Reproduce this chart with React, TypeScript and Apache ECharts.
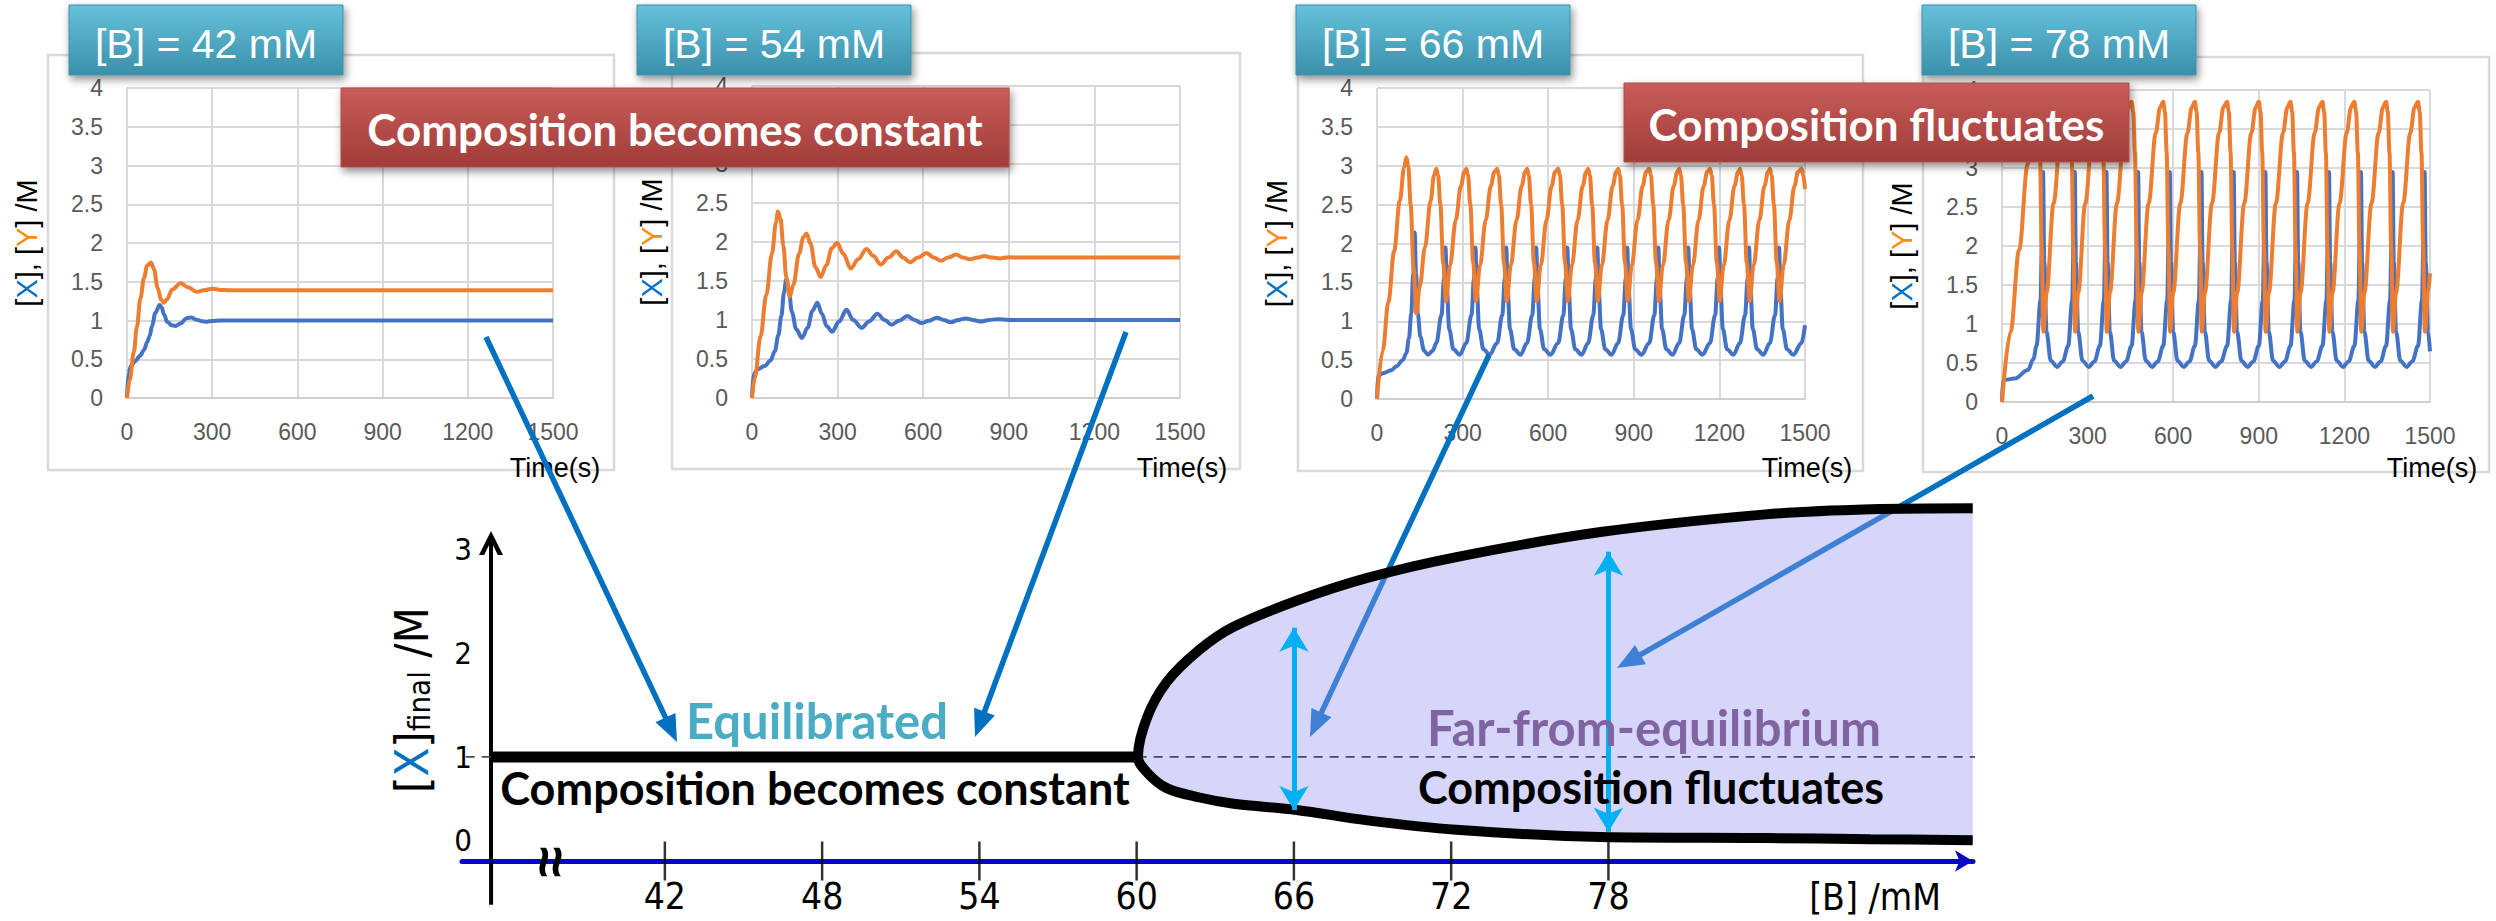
import React, { useEffect, useRef } from "react";
import * as echarts from "echarts";

const W = 2496;
const H = 921;

// ---------- small time-course charts ----------
const conditions = ["42", "54", "66", "78"];
const timeMax = 1500;
const timeStep = 300;
const concMax = 4;
const concStep = 0.5;

// [B] = 42 mM
const t42Y = [0, 10, 24, 35, 47, 60, 71, 85, 95, 108, 120, 129, 140, 160, 188, 215, 245, 270, 300, 330, 360, 400, 600, 900, 1200, 1500];
const y42 = [0, 0.24, 0.59, 0.92, 1.28, 1.55, 1.71, 1.75, 1.66, 1.42, 1.27, 1.23, 1.27, 1.4, 1.48, 1.43, 1.37, 1.39, 1.41, 1.395, 1.39, 1.39, 1.39, 1.39, 1.39, 1.39];
const t42X = [0, 5, 15, 30, 47, 60, 71, 80, 88, 100, 115, 122, 130, 142, 158, 171, 188, 210, 226, 245, 265, 282, 300, 330, 400, 600, 900, 1200, 1500];
const x42 = [0, 0.32, 0.42, 0.48, 0.55, 0.62, 0.72, 0.8, 0.93, 1.1, 1.2, 1.17, 1.08, 0.98, 0.94, 0.93, 0.96, 1.03, 1.04, 1.01, 0.99, 0.985, 0.995, 1.0, 1.0, 1.0, 1.0, 1.0, 1.0];

// [B] = 54 mM
const t54Y = [0, 10, 30, 50, 70, 84, 91, 100, 110, 120, 132, 145, 165, 180, 191, 205, 222, 241, 260, 280, 298, 320, 346, 372, 401, 426, 451, 478, 506, 530, 553, 582, 612, 637, 662, 688, 715, 740, 764, 790, 814, 842, 869, 900, 940, 1000, 1100, 1200, 1300, 1400, 1500];
const y54 = [0, 0.26, 0.79, 1.32, 1.85, 2.25, 2.39, 2.3, 1.95, 1.55, 1.3, 1.45, 1.85, 2.06, 2.11, 1.98, 1.68, 1.55, 1.7, 1.92, 1.99, 1.85, 1.66, 1.78, 1.91, 1.82, 1.71, 1.8, 1.88, 1.8, 1.74, 1.8, 1.86, 1.8, 1.76, 1.8, 1.84, 1.8, 1.78, 1.8, 1.82, 1.8, 1.79, 1.805, 1.8, 1.8, 1.8, 1.8, 1.8, 1.8, 1.8];
const t54X = [0, 5, 20, 44, 65, 80, 92, 103, 112, 120, 128, 140, 155, 175, 195, 212, 229, 245, 262, 281, 305, 331, 355, 384, 410, 439, 465, 489, 515, 544, 570, 594, 620, 647, 672, 697, 723, 749, 775, 802, 830, 860, 900, 1000, 1100, 1200, 1300, 1400, 1500];
const x54 = [0, 0.3, 0.37, 0.41, 0.48, 0.6, 0.8, 1.05, 1.35, 1.52, 1.42, 1.1, 0.88, 0.77, 0.9, 1.12, 1.22, 1.08, 0.92, 0.85, 0.98, 1.13, 1.0, 0.9, 0.98, 1.08, 1.0, 0.94, 0.99, 1.05, 1.0, 0.96, 0.99, 1.03, 1.0, 0.97, 1.0, 1.02, 1.0, 0.98, 1.0, 1.01, 1.0, 1.0, 1.0, 1.0, 1.0, 1.0, 1.0];

// [B] = 66 mM
const t66Y = [
  0, 20, 40, 60, 80, 95, 103, 110, 118, 128, 138, 150, 168, 188, 200, 208,
  214, 222, 232, 242, 256, 276, 294, 306, 313,
  319, 327, 337, 347, 361, 381, 399, 411, 421,
  427, 435, 445, 455, 469, 489, 507, 519, 526,
  532, 540, 550, 560, 574, 594, 612, 624, 635,
  641, 649, 659, 669, 683, 703, 721, 733, 740,
  746, 754, 764, 774, 788, 808, 826, 838, 845,
  851, 859, 869, 879, 893, 913, 931, 943, 954,
  960, 968, 978, 988, 1002, 1022, 1040, 1052, 1059,
  1065, 1073, 1083, 1093, 1107, 1127, 1145, 1157, 1167,
  1173, 1181, 1191, 1201, 1215, 1235, 1253, 1265, 1272,
  1278, 1286, 1296, 1306, 1320, 1340, 1358, 1370, 1377,
  1383, 1391, 1401, 1411, 1425, 1445, 1463, 1475, 1488,
  1494, 1500,
];
const y66 = [
  0, 0.62, 1.25, 1.9, 2.55, 2.98, 3.11, 2.98, 2.5, 1.7, 1.1, 1.45, 1.95, 2.55, 2.88, 2.96,
  2.88, 2.5, 1.75, 1.26, 1.72, 2.3, 2.74, 2.92, 2.96,
  2.88, 2.5, 1.75, 1.26, 1.72, 2.3, 2.74, 2.92, 2.96,
  2.88, 2.5, 1.75, 1.26, 1.72, 2.3, 2.74, 2.92, 2.96,
  2.88, 2.5, 1.75, 1.26, 1.72, 2.3, 2.74, 2.92, 2.96,
  2.88, 2.5, 1.75, 1.26, 1.72, 2.3, 2.74, 2.92, 2.96,
  2.88, 2.5, 1.75, 1.26, 1.72, 2.3, 2.74, 2.92, 2.96,
  2.88, 2.5, 1.75, 1.26, 1.72, 2.3, 2.74, 2.92, 2.96,
  2.88, 2.5, 1.75, 1.26, 1.72, 2.3, 2.74, 2.92, 2.96,
  2.88, 2.5, 1.75, 1.26, 1.72, 2.3, 2.74, 2.92, 2.96,
  2.88, 2.5, 1.75, 1.26, 1.72, 2.3, 2.74, 2.92, 2.96,
  2.88, 2.5, 1.75, 1.26, 1.72, 2.3, 2.74, 2.92, 2.96,
  2.88, 2.5, 1.75, 1.26, 1.72, 2.3, 2.74, 2.92, 2.96,
  2.88, 2.7,
];
const t66X = [
  0, 3, 21, 50, 68, 90, 103, 112, 120, 127, 132, 137, 143, 152, 165, 179, 195, 208,
  226, 235, 240, 245, 253, 268, 290, 313,
  331, 340, 345, 350, 358, 373, 395, 421,
  439, 448, 453, 458, 466, 481, 503, 526,
  544, 553, 558, 563, 571, 586, 608, 635,
  653, 662, 667, 672, 680, 695, 717, 740,
  758, 767, 772, 777, 785, 800, 822, 845,
  863, 872, 877, 882, 890, 905, 927, 954,
  972, 981, 986, 991, 999, 1014, 1036, 1059,
  1077, 1086, 1091, 1096, 1104, 1119, 1141, 1167,
  1185, 1194, 1199, 1204, 1212, 1227, 1249, 1272,
  1290, 1299, 1304, 1309, 1317, 1332, 1354, 1377,
  1395, 1404, 1409, 1414, 1422, 1437, 1459, 1488,
  1500,
];
const x66 = [
  0, 0.3, 0.33, 0.37, 0.42, 0.5, 0.59, 0.78, 1.1, 1.6, 2.14, 1.6, 1.1, 0.8, 0.62, 0.57, 0.62, 0.72,
  1.08, 1.55, 1.95, 1.4, 0.9, 0.64, 0.57, 0.72,
  1.08, 1.55, 1.95, 1.4, 0.9, 0.64, 0.57, 0.72,
  1.08, 1.55, 1.95, 1.4, 0.9, 0.64, 0.57, 0.72,
  1.08, 1.55, 1.95, 1.4, 0.9, 0.64, 0.57, 0.72,
  1.08, 1.55, 1.95, 1.4, 0.9, 0.64, 0.57, 0.72,
  1.08, 1.55, 1.95, 1.4, 0.9, 0.64, 0.57, 0.72,
  1.08, 1.55, 1.95, 1.4, 0.9, 0.64, 0.57, 0.72,
  1.08, 1.55, 1.95, 1.4, 0.9, 0.64, 0.57, 0.72,
  1.08, 1.55, 1.95, 1.4, 0.9, 0.64, 0.57, 0.72,
  1.08, 1.55, 1.95, 1.4, 0.9, 0.64, 0.57, 0.72,
  1.08, 1.55, 1.95, 1.4, 0.9, 0.64, 0.57, 0.72,
  1.08, 1.55, 1.95, 1.4, 0.9, 0.64, 0.57, 0.72,
  0.95,
];

// [B] = 78 mM
const t78Y = [
  0, 30, 60, 90, 108, 121,
  127, 133, 139, 145, 156, 181, 206, 221, 232,
  238, 244, 250, 256, 267, 292, 317, 332, 343,
  349, 355, 361, 367, 378, 403, 428, 443, 454,
  460, 466, 472, 478, 489, 514, 539, 554, 565,
  571, 577, 583, 589, 600, 625, 650, 665, 676,
  682, 688, 694, 700, 711, 736, 761, 776, 789,
  795, 801, 807, 813, 824, 849, 874, 889, 900,
  906, 912, 918, 924, 935, 960, 985, 1000, 1011,
  1017, 1023, 1029, 1035, 1046, 1071, 1096, 1111, 1123,
  1129, 1135, 1141, 1147, 1158, 1183, 1208, 1223, 1235,
  1241, 1247, 1253, 1259, 1270, 1295, 1320, 1335, 1346,
  1352, 1358, 1364, 1370, 1381, 1406, 1431, 1446, 1458,
  1464, 1470, 1476, 1482, 1493, 1500,
];
const y78 = [
  0, 0.9, 1.95, 3.05, 3.7, 3.98,
  3.72, 3.2, 2.0, 0.9, 1.4, 2.55, 3.45, 3.78, 3.85,
  3.72, 3.2, 2.0, 0.9, 1.4, 2.55, 3.45, 3.78, 3.85,
  3.72, 3.2, 2.0, 0.9, 1.4, 2.55, 3.45, 3.78, 3.85,
  3.72, 3.2, 2.0, 0.9, 1.4, 2.55, 3.45, 3.78, 3.85,
  3.72, 3.2, 2.0, 0.9, 1.4, 2.55, 3.45, 3.78, 3.85,
  3.72, 3.2, 2.0, 0.9, 1.4, 2.55, 3.45, 3.78, 3.85,
  3.72, 3.2, 2.0, 0.9, 1.4, 2.55, 3.45, 3.78, 3.85,
  3.72, 3.2, 2.0, 0.9, 1.4, 2.55, 3.45, 3.78, 3.85,
  3.72, 3.2, 2.0, 0.9, 1.4, 2.55, 3.45, 3.78, 3.85,
  3.72, 3.2, 2.0, 0.9, 1.4, 2.55, 3.45, 3.78, 3.85,
  3.72, 3.2, 2.0, 0.9, 1.4, 2.55, 3.45, 3.78, 3.85,
  3.72, 3.2, 2.0, 0.9, 1.4, 2.55, 3.45, 3.78, 3.85,
  3.72, 3.2, 2.0, 0.9, 1.4, 1.65,
];
const t78X = [
  0, 3, 44, 91, 110, 121,
  135, 141, 144, 148, 156, 171, 193, 213, 232,
  246, 252, 255, 259, 267, 282, 304, 324, 343,
  357, 363, 366, 370, 378, 393, 415, 435, 454,
  468, 474, 477, 481, 489, 504, 526, 546, 565,
  579, 585, 588, 592, 600, 615, 637, 657, 676,
  690, 696, 699, 703, 711, 726, 748, 768, 789,
  803, 809, 812, 816, 824, 839, 861, 881, 900,
  914, 920, 923, 927, 935, 950, 972, 992, 1011,
  1025, 1031, 1034, 1038, 1046, 1061, 1083, 1103, 1123,
  1137, 1143, 1146, 1150, 1158, 1173, 1195, 1215, 1235,
  1249, 1255, 1258, 1262, 1270, 1285, 1307, 1327, 1346,
  1360, 1366, 1369, 1373, 1381, 1396, 1418, 1438, 1458,
  1472, 1478, 1481, 1485, 1493, 1500,
];
const x78 = [
  0, 0.28, 0.3, 0.41, 0.55, 0.72,
  1.3, 2.3, 2.95, 1.8, 0.9, 0.53, 0.45, 0.52, 0.72,
  1.3, 2.3, 2.95, 1.8, 0.9, 0.53, 0.45, 0.52, 0.72,
  1.3, 2.3, 2.95, 1.8, 0.9, 0.53, 0.45, 0.52, 0.72,
  1.3, 2.3, 2.95, 1.8, 0.9, 0.53, 0.45, 0.52, 0.72,
  1.3, 2.3, 2.95, 1.8, 0.9, 0.53, 0.45, 0.52, 0.72,
  1.3, 2.3, 2.95, 1.8, 0.9, 0.53, 0.45, 0.52, 0.72,
  1.3, 2.3, 2.95, 1.8, 0.9, 0.53, 0.45, 0.52, 0.72,
  1.3, 2.3, 2.95, 1.8, 0.9, 0.53, 0.45, 0.52, 0.72,
  1.3, 2.3, 2.95, 1.8, 0.9, 0.53, 0.45, 0.52, 0.72,
  1.3, 2.3, 2.95, 1.8, 0.9, 0.53, 0.45, 0.52, 0.72,
  1.3, 2.3, 2.95, 1.8, 0.9, 0.53, 0.45, 0.52, 0.72,
  1.3, 2.3, 2.95, 1.8, 0.9, 0.53, 0.45, 0.52, 0.72,
  1.3, 2.3, 2.95, 1.8, 0.9, 0.65,
];

const seriesX = [[t42X, x42], [t54X, x54], [t66X, x66], [t78X, x78]];
const seriesY = [[t42Y, y42], [t54Y, y54], [t66Y, y66], [t78Y, y78]];

// ---------- bifurcation diagram ----------
const bTicks = [42, 48, 54, 60, 66, 72, 78];
const xFinalTicks = [0, 1, 2, 3];
const branchB = [60.05, 60.4, 61.15, 62.4, 63.7, 66.1, 68.8, 72.2, 77.7, 84, 88, 91.9];
const upperX = [1.0, 1.38, 1.72, 2.03, 2.25, 2.5, 2.72, 2.92, 3.16, 3.33, 3.38, 3.39];
const lowerX = [1.0, 0.85, 0.7, 0.61, 0.55, 0.49, 0.39, 0.3, 0.23, 0.22, 0.21, 0.2];
const steadyB = [35.37, 60.05];
const steadyX = [1, 1];
const refB = [34.4, 92.4];
const refX = [1, 1];
const axisTailB = [35.37, 35.37];
const axisTailX = [0, -0.42];
const oscB = [66, 78];
const oscTop = [2.24, 2.97];
const oscBottom = [0.49, 0.28];

// ---------- layout ----------
const smallGrids = [
  { left: 127, top: 88, width: 426, height: 310 },
  { left: 752, top: 86, width: 428, height: 312 },
  { left: 1377, top: 88, width: 428, height: 311 },
  { left: 2002, top: 90, width: 428, height: 312 },
];
const outerBoxes = [
  [48, 55, 566, 415],
  [672, 53, 568, 416],
  [1298, 55, 565, 416],
  [1923, 57, 566, 415],
];
const labelBoxX = [69, 637, 1296, 1922];
const redBoxes = [
  { x: 341, y: 88, w: 668, h: 79, text: "Composition becomes constant" },
  { x: 1624, y: 83, w: 505, h: 79, text: "Composition fluctuates" },
];
const pointerArrows = [
  [486, 337, 677, 742],
  [1126, 332, 975, 737],
  [1489, 355, 1310, 737],
  [2093, 396, 1617, 668],
];

const SANS = "'Liberation Sans', Arial, sans-serif";
const BOLD = "Lato, 'Noto Sans', sans-serif";
const NARROW = "'Liberation Sans Narrow', 'DejaVu Sans Condensed', Roboto, sans-serif";

const zip = (a: number[], b: number[]) => a.map((v, i) => [v, b[i]]);

function arrow(x1: number, y1: number, x2: number, y2: number, color: string, width: number, z: number) {
  const dx = x2 - x1;
  const dy = y2 - y1;
  const len = Math.hypot(dx, dy);
  const ux = dx / len;
  const uy = dy / len;
  const hl = 27;
  const hw = 11;
  const bx = x2 - ux * hl;
  const by = y2 - uy * hl;
  const nx = -uy;
  const ny = ux;
  return [
    {
      type: "line",
      silent: true,
      z,
      shape: { x1, y1, x2: bx + ux * 4, y2: by + uy * 4 },
      style: { stroke: color, lineWidth: width },
    },
    {
      type: "polygon",
      silent: true,
      z,
      shape: {
        points: [
          [x2, y2],
          [bx + nx * hw, by + ny * hw],
          [bx - nx * hw, by - ny * hw],
        ],
      },
      style: { fill: color },
    },
  ];
}

function buildOption() {
  const outline = [
    ...zip(branchB, upperX).reverse(),
    ...zip(branchB, lowerX).slice(1),
  ];

  const grid: any[] = smallGrids.map((g) => ({ ...g, outerBoundsMode: "none", containLabel: false }));
  grid.push({ left: 462, top: 543, width: 1511, height: 318, outerBoundsMode: "none", containLabel: false });

  const xAxis: any[] = smallGrids.map((_, i) => ({
    gridIndex: i,
    type: "value",
    min: 0,
    max: timeMax,
    interval: timeStep,
    axisLine: { lineStyle: { color: "#CFCFCF", width: 2 } },
    axisTick: { show: false },
    axisLabel: { color: "#595959", fontSize: 23, margin: 22, fontFamily: SANS, formatter: (v: number) => String(v) },
    splitLine: { show: true, lineStyle: { color: "#D9D9D9", width: 2 } },
  }));
  xAxis.push({
    gridIndex: 4,
    type: "value",
    min: 34.26,
    max: 91.91,
    axisLine: {
      onZero: false,
      lineStyle: { color: "#0606C8", width: 5 },
      symbol: ["none", "arrow"],
      symbolSize: [16, 18],
    },
    axisTick: { show: false },
    splitLine: { show: false },
    axisLabel: {
      customValues: bTicks,
      fontSize: 37,
      color: "#000",
      margin: 17,
      fontFamily: NARROW,
      formatter: (v: number) => String(v),
    },
  });

  const richName = {
    b: { fontSize: 29, color: "#000", fontFamily: SANS },
    x: { fontSize: 29, color: "#0070C0", fontFamily: SANS },
    y: { fontSize: 29, color: "#FF8A10", fontFamily: SANS },
  };
  const yAxis: any[] = smallGrids.map((_, i) => ({
    gridIndex: i,
    type: "value",
    min: 0,
    max: concMax,
    interval: concStep,
    axisLine: { show: false },
    axisTick: { show: false },
    axisLabel: { color: "#595959", fontSize: 23, margin: 24, fontFamily: SANS },
    splitLine: { show: true, lineStyle: { color: "#D9D9D9", width: 2 } },
    name: "{b|[}{x|X}{b|], [}{y|Y}{b|] /M}",
    nameLocation: "middle",
    nameRotate: 90,
    nameGap: 86,
    nameTextStyle: { rich: richName },
  }));
  yAxis.push({
    gridIndex: 4,
    type: "value",
    min: 0,
    max: 3.055,
    offset: -29,
    axisLine: {
      show: true,
      onZero: false,
      lineStyle: { color: "#000", width: 4 },
      symbol: ["none", "path://M0,12 L6,0 L12,12 L9.4,12 L6,5 L2.6,12 Z"],
      symbolSize: [24, 26],
    },
    axisTick: { show: false },
    splitLine: { show: false },
    axisLabel: {
      customValues: xFinalTicks,
      margin: 19,
      formatter: (v: number) => (v === 0 ? "{z|0}" : "{n|" + v + "}"),
      rich: {
        z: { fontSize: 31, color: "#000", fontFamily: NARROW, padding: [0, 0, 42, 0] },
        n: { fontSize: 31, color: "#000", fontFamily: NARROW },
      },
    },
  });

  const series: any[] = [];
  smallGrids.forEach((_, i) => {
    series.push({
      type: "line",
      name: "X" + conditions[i],
      xAxisIndex: i,
      yAxisIndex: i,
      data: zip(seriesX[i][0], seriesX[i][1]),
      symbol: "none",
      smooth: 0.35,
      smoothMonotone: "x",
      silent: true,
      lineStyle: { color: "#4472C4", width: 4 },
      z: 2,
    });
    series.push({
      type: "line",
      name: "Y" + conditions[i],
      xAxisIndex: i,
      yAxisIndex: i,
      data: zip(seriesY[i][0], seriesY[i][1]),
      symbol: "none",
      smooth: 0.35,
      smoothMonotone: "x",
      silent: true,
      lineStyle: { color: "#ED7D31", width: 4 },
      z: 2,
    });
  });

  // bifurcation diagram
  series.push({
    type: "custom",
    name: "fluctuation region",
    xAxisIndex: 4,
    yAxisIndex: 4,
    data: [[60, 1]],
    clip: false,
    silent: true,
    z: 4,
    renderItem: (_p: any, api: any) => ({
      type: "polygon",
      shape: { points: outline.map((p) => api.coord(p)) },
      style: { fill: "rgba(152,152,242,0.4)" },
    }),
  });
  series.push({
    type: "line",
    name: "reference",
    xAxisIndex: 4,
    yAxisIndex: 4,
    data: zip(refB, refX),
    symbol: "none",
    clip: false,
    silent: true,
    lineStyle: { color: "#4A4A60", width: 1.6, type: [9, 7] },
    z: 5,
  });
  series.push({
    type: "line",
    name: "axis tail",
    xAxisIndex: 4,
    yAxisIndex: 4,
    data: zip(axisTailB, axisTailX),
    symbol: "none",
    clip: false,
    silent: true,
    lineStyle: { color: "#000", width: 4 },
    z: 5,
  });
  series.push({
    type: "line",
    name: "steady",
    xAxisIndex: 4,
    yAxisIndex: 4,
    data: zip(steadyB, steadyX),
    symbol: "none",
    clip: false,
    silent: true,
    lineStyle: { color: "#000", width: 11, cap: "butt" },
    z: 6,
  });
  series.push({
    type: "line",
    name: "envelope",
    xAxisIndex: 4,
    yAxisIndex: 4,
    data: outline,
    symbol: "none",
    smooth: 0.35,
    clip: false,
    silent: true,
    lineStyle: { color: "#000", width: 10 },
    z: 6,
  });
  series.push({
    type: "scatter",
    name: "ticks",
    xAxisIndex: 4,
    yAxisIndex: 4,
    data: bTicks.map((b) => [b, 0]),
    symbol: "rect",
    symbolSize: [2.5, 39],
    clip: false,
    silent: true,
    itemStyle: { color: "#000" },
    z: 5,
  });
  series.push({
    type: "line",
    name: "amplitude",
    xAxisIndex: 4,
    yAxisIndex: 4,
    data: [],
    silent: true,
    z: 7,
    markLine: {
      silent: true,
      z: 7,
      animation: false,
      symbol: ["arrow", "arrow"],
      symbolSize: [22, 24],
      label: { show: false },
      lineStyle: { color: "#00B0F0", width: 5, type: "solid" },
      data: oscB.map((b, i) => [{ coord: [b, oscTop[i]] }, { coord: [b, oscBottom[i]] }]),
    },
  });

  // graphics
  const graphic: any[] = [];
  outerBoxes.forEach(([x, y, w, h]) =>
    graphic.push({
      type: "rect",
      silent: true,
      z: 1,
      shape: { x, y, width: w, height: h },
      style: { fill: "none", stroke: "#D9D9D9", lineWidth: 2.5 },
    })
  );
  smallGrids.forEach((g) =>
    graphic.push({
      type: "text",
      silent: true,
      z: 1,
      x: g.left + g.width + 2,
      y: 468,
      style: { text: "Time(s)", fill: "#000", fontSize: 27, fontFamily: SANS, align: "center", verticalAlign: "middle" },
    })
  );
  pointerArrows.forEach(([x1, y1, x2, y2]) => graphic.push(...arrow(x1, y1, x2, y2, "#0070C0", 5.5, 3)));

  labelBoxX.forEach((x, i) => {
    graphic.push({
      type: "rect",
      silent: true,
      z: 20,
      shape: { x, y: 5, width: 274, height: 70 },
      style: {
        fill: new echarts.graphic.LinearGradient(0, 0, 0, 1, [
          { offset: 0, color: "#66C1DA" },
          { offset: 1, color: "#3A90AB" },
        ]),
        stroke: "#3E8FA8",
        lineWidth: 1,
        shadowBlur: 8,
        shadowOffsetX: 2,
        shadowOffsetY: 4,
        shadowColor: "rgba(0,0,0,0.45)",
      },
    });
    graphic.push({
      type: "text",
      silent: true,
      z: 21,
      x: x + 137,
      y: 44,
      style: {
        text: "[B] = " + conditions[i] + " mM",
        fill: "#fff",
        fontSize: 41,
        fontFamily: SANS,
        align: "center",
        verticalAlign: "middle",
      },
    });
  });

  redBoxes.forEach((b) => {
    graphic.push({
      type: "rect",
      silent: true,
      z: 20,
      shape: { x: b.x, y: b.y, width: b.w, height: b.h },
      style: {
        fill: new echarts.graphic.LinearGradient(0, 0, 0, 1, [
          { offset: 0, color: "#C75D5A" },
          { offset: 1, color: "#A03C39" },
        ]),
        stroke: "#B44A47",
        lineWidth: 1,
        shadowBlur: 8,
        shadowOffsetX: 2,
        shadowOffsetY: 4,
        shadowColor: "rgba(0,0,0,0.45)",
      },
    });
    graphic.push({
      type: "text",
      silent: true,
      z: 21,
      x: b.x + b.w / 2,
      y: b.y + b.h / 2 + 1,
      style: {
        text: b.text,
        fill: "#fff",
        fontSize: 44,
        fontWeight: "bold",
        fontFamily: BOLD,
        align: "center",
        verticalAlign: "middle",
      },
    });
  });

  const label = (text: string, x: number, y: number, color: string, size: number) => ({
    type: "text",
    silent: true,
    z: 9,
    x,
    y,
    style: { text, fill: color, fontSize: size, fontWeight: "bold", fontFamily: BOLD, align: "center", verticalAlign: "middle" },
  });
  graphic.push(label("Equilibrated", 817, 720, "#4BACC6", 49));
  graphic.push(label("Composition becomes constant", 815, 788, "#000", 45));
  graphic.push(label("Far-from-equilibrium", 1654, 727, "#8064A2", 49));
  graphic.push(label("Composition fluctuates", 1651, 787, "#000", 45));
  graphic.push({
    type: "text",
    silent: true,
    z: 9,
    x: 1875,
    y: 897,
    style: { text: "[B] /mM", fill: "#000", fontSize: 37, fontFamily: NARROW, align: "center", verticalAlign: "middle" },
  });
  graphic.push({
    type: "text",
    silent: true,
    z: 9,
    x: 549,
    y: 862,
    rotation: Math.PI / 2,
    style: { text: "≈", fill: "#000", fontSize: 56, fontWeight: "bold", fontFamily: SANS, align: "center", verticalAlign: "middle" },
  });
  graphic.push({
    type: "text",
    silent: true,
    z: 9,
    x: 411,
    y: 700,
    rotation: Math.PI / 2,
    style: {
      text: "{b|[}{x|X}{b|]}{s|final}{b| /M}",
      align: "center",
      verticalAlign: "middle",
      rich: {
        b: { fontSize: 47, fill: "#000", fontFamily: NARROW },
        x: { fontSize: 47, fill: "#0070C0", fontFamily: NARROW },
        s: { fontSize: 31, fill: "#000", fontFamily: NARROW, verticalAlign: "bottom", padding: [14, 0, 0, 0] },
      },
    },
  });

  return {
    animation: false,
    backgroundColor: "#fff",
    textStyle: { fontFamily: SANS },
    grid,
    xAxis,
    yAxis,
    series,
    graphic: { elements: graphic },
  };
}

export default function App() {
  const ref = useRef<HTMLDivElement>(null);
  useEffect(() => {
    document.body.style.margin = "0";
    document.body.style.overflow = "hidden";
    const chart = echarts.init(ref.current!, null, { renderer: "svg", width: W, height: H });
    chart.setOption(buildOption() as any);
    return () => chart.dispose();
  }, []);
  return (
    <div
      ref={ref}
      style={{ position: "fixed", left: 0, top: 0, width: W, height: H, background: "#fff" }}
    />
  );
}
